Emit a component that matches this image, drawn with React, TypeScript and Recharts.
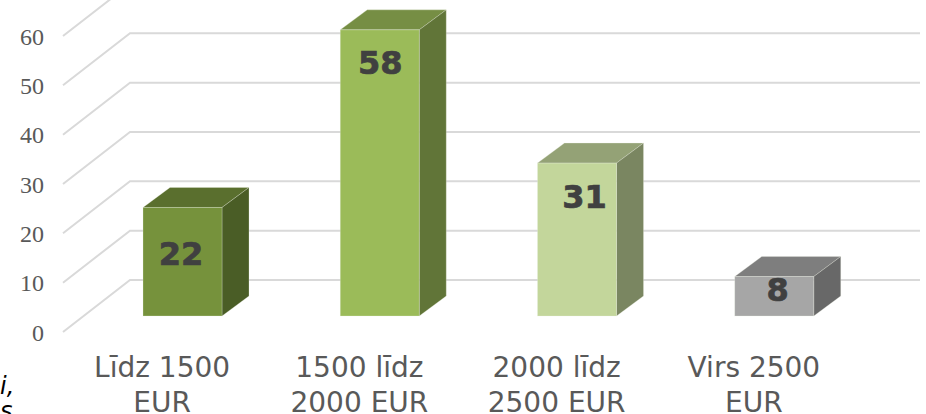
import React from 'react';
import { BarChart, Bar, XAxis, YAxis, LabelList, CartesianGrid } from 'recharts';

const categories = ['Līdz 1500 EUR', '1500 līdz 2000 EUR', '2000 līdz 2500 EUR', 'Virs 2500 EUR'];
const values = [22, 58, 31, 8];
const yTicks = [0, 10, 20, 30, 40, 50, 60];
const rows = categories.map((name, i) => ({ name, value: values[i] }));

const frontColors = ['#76923c', '#9bbb59', '#c3d69b', '#a6a6a6'];
const topColors = ['#5a6f2e', '#768e44', '#94a276', '#7e7e7e'];
const sideColors = ['#4a5d26', '#617538', '#7a8661', '#686868'];
const labelShiftX = [-1.5, 0.5, 7.5, 3.5];
const labelDropY = [46, 32, 33, 12];

const DEPTH_X = 27;
const DEPTH_Y = 20;
const GRID = '#d9d9d9';
const EDGE = 'rgba(235,240,225,0.35)';

const Box = (p: any) => {
  const { x, y, width, height, index } = p;
  const r = x + width;
  const b = y + height;
  return (
    <g>
      <polygon points={`${x},${y} ${x + DEPTH_X},${y - DEPTH_Y} ${r + DEPTH_X},${y - DEPTH_Y} ${r},${y}`} fill={topColors[index]} stroke={EDGE} strokeWidth={0.8} />
      <polygon points={`${r},${y} ${r + DEPTH_X},${y - DEPTH_Y} ${r + DEPTH_X},${b - DEPTH_Y} ${r},${b}`} fill={sideColors[index]} stroke={EDGE} strokeWidth={0.8} />
      <rect x={x} y={y} width={width} height={height} fill={frontColors[index]} stroke={EDGE} strokeWidth={0.8} />
    </g>
  );
};

const gridLine = (p: any) => {
  const y = p.y1;
  return <polyline key={p.key ?? y} points={`63,${y + 16} 130,${y - 36} 920,${y - 36}`} fill="none" stroke={GRID} strokeWidth={2} />;
};

const YTick = (p: any) => {
  const { y, payload } = p;
  return (
    <text x={44} y={y + 24.5} textAnchor="end" fontFamily="'Liberation Serif', serif" fontSize={24} fill="#595959">
      {payload.value}
    </text>
  );
};

const XTick = (p: any) => {
  const { x, payload } = p;
  const parts = String(payload.value).split(' ');
  const first = parts.slice(0, 2).join(' ');
  const second = parts.slice(2).join(' ');
  return (
    <text textAnchor="middle" fontFamily="'DejaVu Sans', sans-serif" fontSize={28} fill="#595959">
      <tspan x={x - 20.5} y={377}>{first}</tspan>
      <tspan x={x - 20.5} y={412}>{second}</tspan>
    </text>
  );
};

const ValueLabel = (p: any) => {
  const { x, y, width, value, index } = p;
  return (
    <text
      x={x + width / 2 + labelShiftX[index]}
      y={y + labelDropY[index] + 12}
      textAnchor="middle"
      fontFamily="'DejaVu Sans', sans-serif"
      fontWeight={700}
      fontSize={32}
      fill="#404040"
      stroke="#404040"
      strokeWidth={0.7}
    >
      {value}
    </text>
  );
};

export default function App() {
  return (
    <div style={{ position: 'absolute', left: 0, top: 0, width: 926, height: 414, overflow: 'hidden', background: '#fff' }}>
      <BarChart width={926} height={414} data={rows} margin={{ top: 20, right: 53, bottom: 0, left: 0 }} barCategoryGap={0}>
        <CartesianGrid vertical={false} horizontal={gridLine} syncWithTicks />
        <YAxis width={84} domain={[0, 60]} ticks={yTicks} interval={0} axisLine={false} tickLine={false} tick={<YTick />} />
        <XAxis dataKey="name" height={98} interval={0} axisLine={false} tickLine={false} tick={<XTick />} />
        <Bar dataKey="value" barSize={79} isAnimationActive={false} shape={<Box />}>
          <LabelList dataKey="value" content={<ValueLabel />} />
        </Bar>
      </BarChart>
      <div style={{ position: 'absolute', left: 0, top: 374, fontFamily: "'DejaVu Sans', sans-serif", fontStyle: 'italic', fontSize: 24, lineHeight: '25px', color: '#000' }}>
        <div>i,</div>
        <div>s</div>
      </div>
    </div>
  );
}
